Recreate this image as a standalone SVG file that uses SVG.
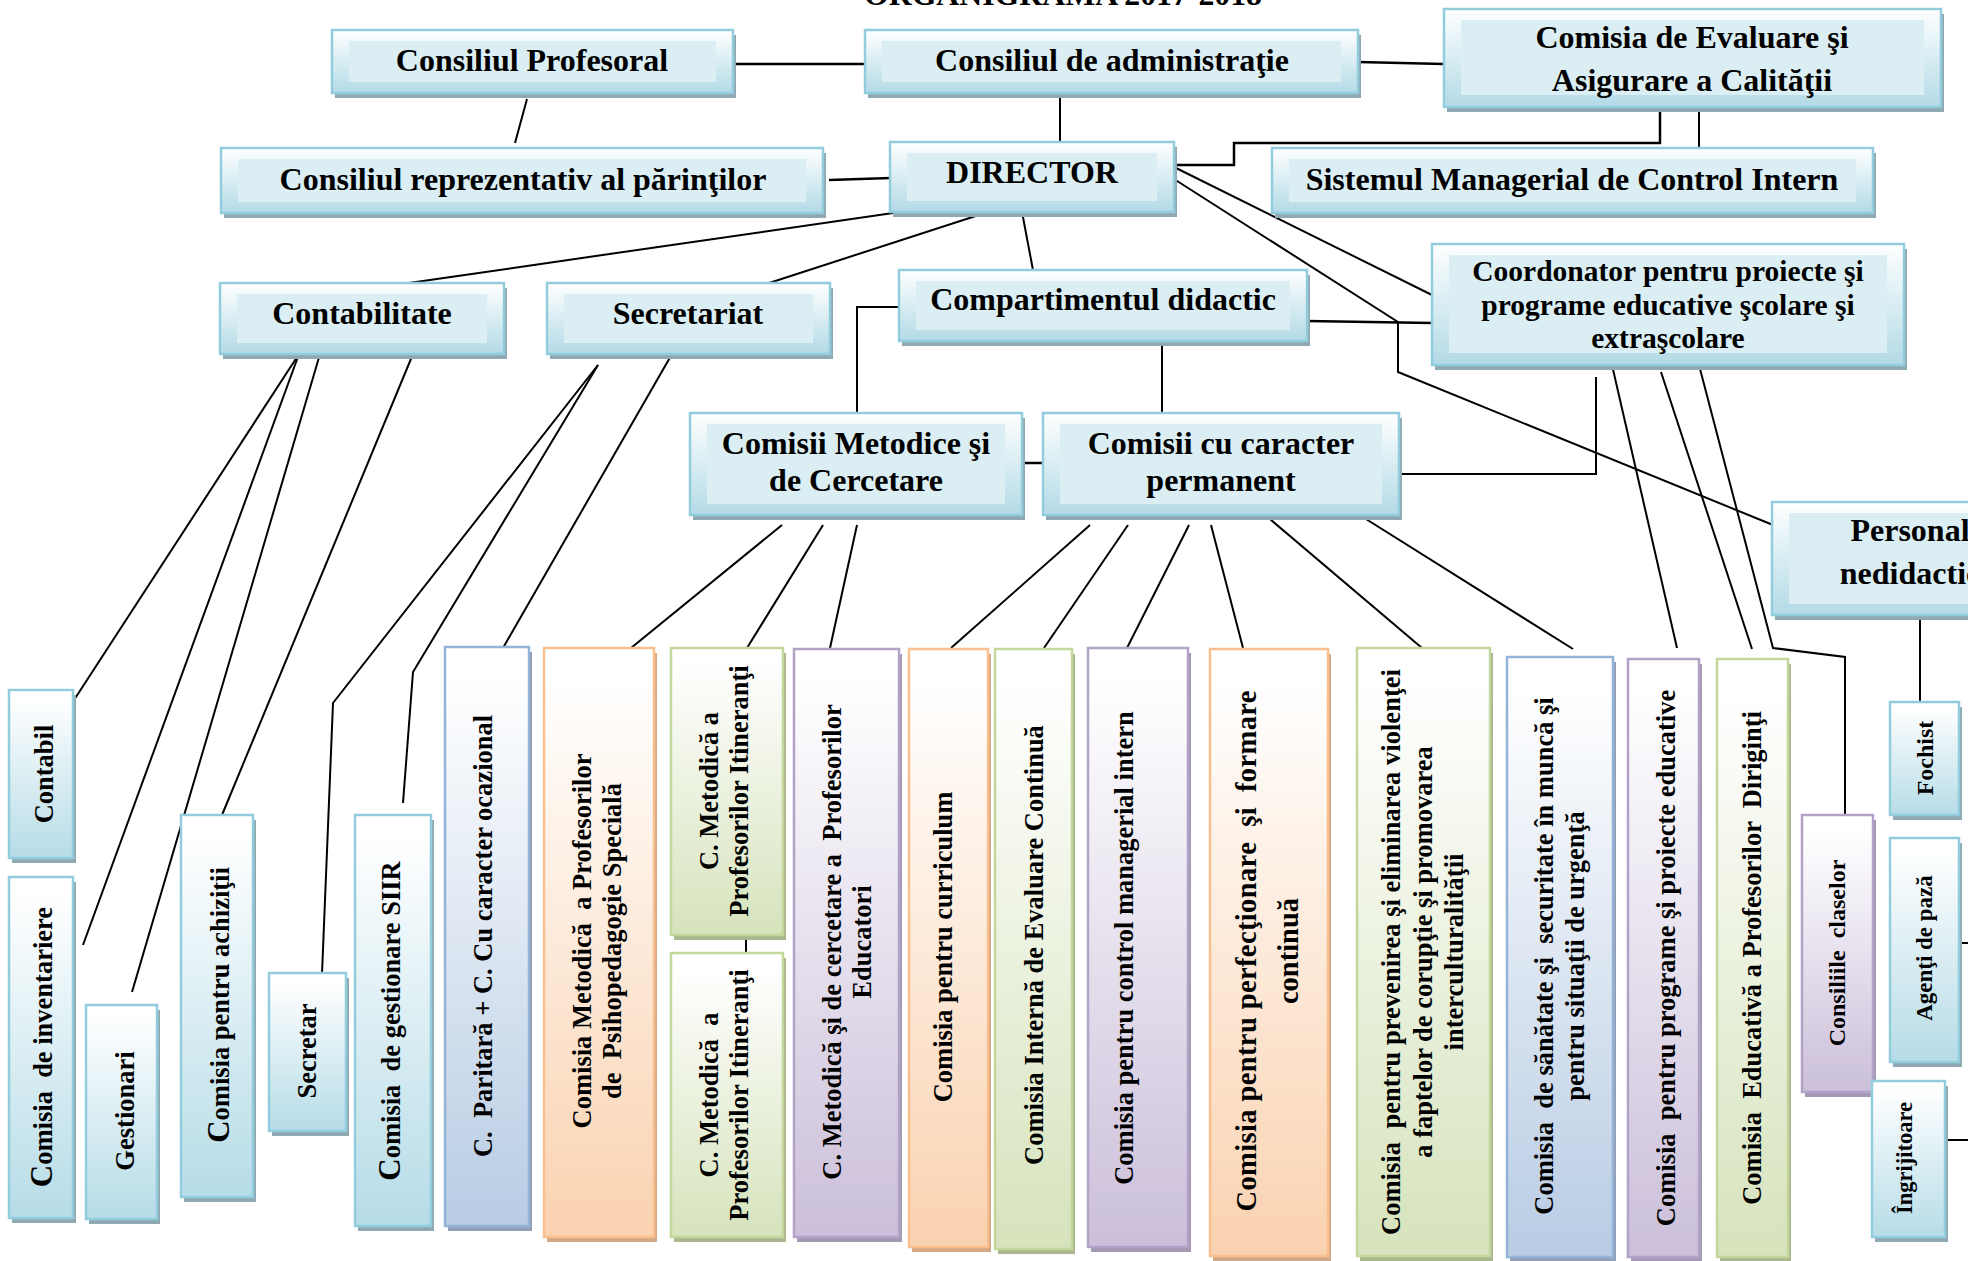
<svg xmlns="http://www.w3.org/2000/svg" width="1968" height="1261" viewBox="0 0 1968 1261">
<defs>
<linearGradient id="gTop" x1="0" y1="0" x2="0" y2="1"><stop offset="0" stop-color="#FFFFFF"/><stop offset="0.45" stop-color="#DCEFF4"/><stop offset="1" stop-color="#B3DAE6"/></linearGradient>
<linearGradient id="gLB" x1="0" y1="0" x2="0" y2="1"><stop offset="0.05" stop-color="#FFFFFF"/><stop offset="1" stop-color="#B6DCE7"/></linearGradient>
<linearGradient id="gOr" x1="0" y1="0" x2="0" y2="1"><stop offset="0.05" stop-color="#FFFFFF"/><stop offset="1" stop-color="#FAD2B0"/></linearGradient>
<linearGradient id="gGr" x1="0" y1="0" x2="0" y2="1"><stop offset="0.05" stop-color="#FFFFFF"/><stop offset="1" stop-color="#D6E3BC"/></linearGradient>
<linearGradient id="gPu" x1="0" y1="0" x2="0" y2="1"><stop offset="0.05" stop-color="#FFFFFF"/><stop offset="1" stop-color="#CBBFDA"/></linearGradient>
<linearGradient id="gBl" x1="0" y1="0" x2="0" y2="1"><stop offset="0.05" stop-color="#FFFFFF"/><stop offset="1" stop-color="#B8CCE4"/></linearGradient>
<style>
.sh{fill:#8FA8B1}
.ob{fill:url(#gTop);stroke:#93CDDD;stroke-width:2.5}
.ib{fill:#DAEEF3}
.tt{font-family:"Liberation Serif","Times New Roman",serif;font-weight:bold;font-size:32px;text-anchor:middle;fill:#000}
.vt{font-family:"Liberation Serif","Times New Roman",serif;font-weight:bold;font-size:26.5px;text-anchor:middle;fill:#000;white-space:pre}
.lb{fill:url(#gLB);stroke:#93CDDD;stroke-width:2.5}
.or{fill:url(#gOr);stroke:#F9BF8F;stroke-width:2.5}
.gr{fill:url(#gGr);stroke:#C3D69B;stroke-width:2.5}
.pu{fill:url(#gPu);stroke:#B3A2C7;stroke-width:2.5}
.bl{fill:url(#gBl);stroke:#95B3D7;stroke-width:2.5}
.sl{fill:#8FA8B1}
.so{fill:#D3A886}
.sg{fill:#A9B68E}
.sp{fill:#A399B3}
.sb{fill:#919FB8}
.c{stroke:#000;stroke-width:2;fill:none}
</style>
</defs>
<rect x="0" y="0" width="1968" height="1261" fill="#FFFFFF"/>

<text id="title" class="tt" x="1063" y="5" style="font-size:31px" textLength="398" lengthAdjust="spacingAndGlyphs">ORGANIGRAMA 2017-2018</text>

<g id="connectors" class="c">
<line x1="734" y1="64" x2="866" y2="64" stroke-width="2.5"/>
<line x1="1358" y1="62" x2="1444" y2="64" stroke-width="2.5"/>
<line x1="1060" y1="97" x2="1060" y2="142"/>
<line x1="527" y1="99" x2="515" y2="143"/>
<line x1="829" y1="180" x2="891" y2="178" stroke-width="2.5"/>
<polyline points="1174,165 1234,165 1234,143 1660,143 1660,107" stroke-width="2.5"/>
<line x1="1699" y1="107" x2="1699" y2="148"/>
<line x1="1174" y1="167" x2="1432" y2="295"/>
<polyline points="1174,179 1398,322 1398,372 1773,525"/>
<line x1="900" y1="212" x2="402" y2="284"/>
<line x1="988" y1="212" x2="766" y2="284"/>
<line x1="1022" y1="212" x2="1033" y2="270"/>
<line x1="1307" y1="321" x2="1432" y2="323" stroke-width="2.5"/>
<polyline points="900,307 857,307 857,414"/>
<line x1="1162" y1="341" x2="1162" y2="414"/>
<line x1="1023" y1="463" x2="1043" y2="463" stroke-width="2.5"/>
<polyline points="1398,474 1596,474 1596,377"/>
<line x1="1612" y1="365" x2="1677" y2="648"/>
<line x1="1661" y1="372" x2="1752" y2="649"/>
<polyline points="1699,365 1773,648 1845,657 1845,815"/>
<line x1="1920" y1="620" x2="1920" y2="702"/>
<line x1="1959" y1="943" x2="1968" y2="943"/>
<line x1="1945" y1="1140" x2="1968" y2="1140"/>
<line x1="782" y1="525" x2="631" y2="648"/>
<line x1="823" y1="525" x2="747" y2="648"/>
<line x1="857" y1="525" x2="830" y2="648"/>
<line x1="746" y1="936" x2="746" y2="953"/>
<line x1="1090" y1="525" x2="951" y2="648"/>
<line x1="1128" y1="525" x2="1044" y2="648"/>
<line x1="1189" y1="525" x2="1127" y2="648"/>
<line x1="1211" y1="525" x2="1243" y2="648"/>
<line x1="1264" y1="514" x2="1422" y2="648"/>
<line x1="1358" y1="514" x2="1573" y2="649"/>
<line x1="299" y1="354" x2="74" y2="700"/>
<line x1="299" y1="354" x2="83" y2="945"/>
<line x1="320" y1="354" x2="132" y2="992"/>
<line x1="413" y1="354" x2="222" y2="815"/>
<polyline points="598,365 333,703 322,974"/>
<polyline points="598,365 413,672 403,803"/>
<line x1="672" y1="354" x2="503" y2="648"/>
</g>

<g id="n-profesoral"><rect class="sh" x="335" y="35" width="401" height="63"/><rect class="ob" x="332" y="30" width="401" height="63"/><rect class="ib" x="349" y="41" width="367" height="41"/><text class="tt" x="532" y="71">Consiliul Profesoral</text></g>
<g id="n-administratie"><rect class="sh" x="868" y="35" width="493" height="63"/><rect class="ob" x="865" y="30" width="493" height="63"/><rect class="ib" x="882" y="41" width="459" height="41"/><text class="tt" x="1112" y="71">Consiliul de administraţie</text></g>
<g id="n-ceac"><rect class="sh" x="1447" y="14" width="497" height="98"/><rect class="ob" x="1444" y="9" width="497" height="98"/><rect class="ib" x="1461" y="20" width="463" height="75"/><text class="tt" x="1692" y="48">Comisia de Evaluare şi</text><text class="tt" x="1692" y="91">Asigurare a Calităţii</text></g>
<g id="n-parinti"><rect class="sh" x="224" y="153" width="602" height="65"/><rect class="ob" x="221" y="148" width="602" height="65"/><rect class="ib" x="238" y="159" width="568" height="43"/><text class="tt" x="523" y="190">Consiliul reprezentativ al părinţilor</text></g>
<g id="n-director"><rect class="sh" x="893" y="147" width="284" height="70"/><rect class="ob" x="890" y="142" width="284" height="70"/><rect class="ib" x="907" y="153" width="250" height="48"/><text class="tt" x="1032" y="183">DIRECTOR</text></g>
<g id="n-scim"><rect class="sh" x="1275" y="153" width="601" height="65"/><rect class="ob" x="1272" y="148" width="601" height="65"/><rect class="ib" x="1289" y="159" width="567" height="43"/><text class="tt" x="1572" y="190">Sistemul Managerial de Control Intern</text></g>
<g id="n-contabilitate"><rect class="sh" x="223" y="288" width="284" height="71"/><rect class="ob" x="220" y="283" width="284" height="71"/><rect class="ib" x="237" y="294" width="250" height="49"/><text class="tt" x="362" y="324">Contabilitate</text></g>
<g id="n-secretariat"><rect class="sh" x="550" y="288" width="283" height="71"/><rect class="ob" x="547" y="283" width="283" height="71"/><rect class="ib" x="564" y="294" width="249" height="49"/><text class="tt" x="688" y="324">Secretariat</text></g>
<g id="n-didactic"><rect class="sh" x="902" y="275" width="408" height="71"/><rect class="ob" x="899" y="270" width="408" height="71"/><rect class="ib" x="916" y="281" width="374" height="49"/><text class="tt" x="1103" y="310">Compartimentul didactic</text></g>
<g id="n-coordonator"><rect class="sh" x="1435" y="249" width="472" height="121"/><rect class="ob" x="1432" y="244" width="472" height="121"/><rect class="ib" x="1449" y="255" width="438" height="98"/><text class="tt" x="1668" y="281" style="font-size:29.5px">Coordonator pentru proiecte şi</text><text class="tt" x="1668" y="315" style="font-size:29.5px">programe educative şcolare şi</text><text class="tt" x="1668" y="348" style="font-size:29.5px">extraşcolare</text></g>
<g id="n-metodice"><rect class="sh" x="693" y="418" width="332" height="102"/><rect class="ob" x="690" y="413" width="332" height="102"/><rect class="ib" x="707" y="424" width="298" height="80"/><text class="tt" x="856" y="454">Comisii Metodice şi</text><text class="tt" x="856" y="491">de Cercetare</text></g>
<g id="n-permanent"><rect class="sh" x="1046" y="418" width="356" height="102"/><rect class="ob" x="1043" y="413" width="356" height="102"/><rect class="ib" x="1060" y="424" width="322" height="80"/><text class="tt" x="1221" y="454">Comisii cu caracter</text><text class="tt" x="1221" y="491">permanent</text></g>
<g id="n-nedidactic"><rect class="sh" x="1775" y="507" width="290" height="113"/><rect class="ob" x="1772" y="502" width="290" height="113"/><rect class="ib" x="1789" y="513" width="256" height="91"/><text class="tt" x="1910" y="541">Personal</text><text class="tt" x="1910" y="584">nedidactic</text></g>

<g id="n-contabil"><rect class="sl" x="12" y="695" width="64" height="168"/><rect class="lb" x="9" y="690" width="64" height="168"/><text class="vt" transform="translate(53,774) rotate(-90)">Contabil</text></g>
<g id="n-inventariere"><rect class="sl" x="12" y="882" width="64" height="341"/><rect class="lb" x="9" y="877" width="64" height="341"/><text class="vt" transform="translate(52,1047) rotate(-90)"><tspan style="font-size:31px">C</tspan>omisia  de inventariere</text></g>
<g id="n-gestionari"><rect class="sl" x="89" y="1010" width="71" height="214"/><rect class="lb" x="86" y="1005" width="71" height="214"/><text class="vt" transform="translate(134,1111) rotate(-90)">Gestionari</text></g>
<g id="n-achizitii"><rect class="sl" x="184" y="820" width="72" height="382"/><rect class="lb" x="181" y="815" width="72" height="382"/><text class="vt" transform="translate(229,1005) rotate(-90)"><tspan style="font-size:31px">C</tspan>omisia pentru achiziţii</text></g>
<g id="n-secretar"><rect class="sl" x="272" y="978" width="77" height="158"/><rect class="lb" x="269" y="973" width="77" height="158"/><text class="vt" transform="translate(316,1051) rotate(-90)">Secretar</text></g>
<g id="n-siir"><rect class="sl" x="358" y="820" width="76" height="411"/><rect class="lb" x="355" y="815" width="76" height="411"/><text class="vt" transform="translate(400,1021) rotate(-90)"><tspan style="font-size:31px">C</tspan>omisia  de gestionare SIIR</text></g>
<g id="n-paritara"><rect class="sb" x="448" y="652" width="84" height="579"/><rect class="bl" x="445" y="647" width="84" height="579"/><text class="vt" transform="translate(492,936) rotate(-90)">C.  Paritară + C. Cu caracter ocazional</text></g>

<g id="n-psihopedagogie"><rect class="so" x="547" y="653" width="110" height="589"/><rect class="or" x="544" y="648" width="110" height="589"/><text class="vt" transform="translate(591,941) rotate(-90)"><tspan x="0" y="0">Comisia Metodică  a Profesorilor</tspan><tspan x="0" dy="30">de  Psihopedagogie Specială</tspan></text></g>
<g id="n-itineranti1"><rect class="sg" x="674" y="653" width="112" height="287"/><rect class="gr" x="671" y="648" width="112" height="287"/><text class="vt" transform="translate(718,791) rotate(-90)"><tspan x="0" y="0">C. Metodică a</tspan><tspan x="0" dy="30">Profesorilor Itineranţi</tspan></text></g>
<g id="n-itineranti2"><rect class="sg" x="674" y="958" width="112" height="284"/><rect class="gr" x="671" y="953" width="112" height="284"/><text class="vt" transform="translate(718,1095) rotate(-90)"><tspan x="0" y="0">C. Metodică  a</tspan><tspan x="0" dy="30">Profesorilor Itineranţi</tspan></text></g>
<g id="n-educatori"><rect class="sp" x="797" y="654" width="105" height="588"/><rect class="pu" x="794" y="649" width="105" height="588"/><text class="vt" transform="translate(841,942) rotate(-90)"><tspan x="0" y="0">C. Metodică şi de cercetare a  Profesorilor</tspan><tspan x="0" dy="30">Educatori</tspan></text></g>
<g id="n-curriculum"><rect class="so" x="912" y="654" width="79" height="598"/><rect class="or" x="909" y="649" width="79" height="598"/><text class="vt" transform="translate(952,947) rotate(-90)">Comisia pentru curriculum</text></g>
<g id="n-ciec"><rect class="sg" x="998" y="654" width="77" height="600"/><rect class="gr" x="995" y="649" width="77" height="600"/><text class="vt" transform="translate(1043,945) rotate(-90)">Comisia Internă de Evaluare Continuă</text></g>
<g id="n-control"><rect class="sp" x="1091" y="653" width="100" height="599"/><rect class="pu" x="1088" y="648" width="100" height="599"/><text class="vt" transform="translate(1133,948) rotate(-90)">Comisia pentru control managerial intern</text></g>
<g id="n-perfectionare"><rect class="so" x="1213" y="654" width="118" height="607"/><rect class="or" x="1210" y="649" width="118" height="607"/><text class="vt" style="font-size:28.5px" transform="translate(1256,951) rotate(-90)"><tspan x="0" y="0" textLength="521" lengthAdjust="spacing">Comisia pentru perfecţionare  şi  formare</tspan><tspan x="0" dy="42">continuă</tspan></text></g>
<g id="n-violenta"><rect class="sg" x="1360" y="653" width="133" height="608"/><rect class="gr" x="1357" y="648" width="133" height="608"/><text class="vt" transform="translate(1400,952) rotate(-90)"><tspan x="0" y="0" textLength="566" lengthAdjust="spacing">Comisia  pentru prevenirea şi eliminarea violenţei</tspan><tspan x="0" dy="31.5">a faptelor de corupţie şi promovarea</tspan><tspan x="0" dy="31.5">interculturalităţii</tspan></text></g>
<g id="n-ssm"><rect class="sb" x="1510" y="662" width="106" height="600"/><rect class="bl" x="1507" y="657" width="106" height="600"/><text class="vt" transform="translate(1553,956) rotate(-90)"><tspan x="0" y="0">Comisia  de sănătate şi  securitate în muncă şi</tspan><tspan x="0" dy="31">pentru situaţii de urgenţă</tspan></text></g>
<g id="n-programe"><rect class="sp" x="1631" y="664" width="71" height="598"/><rect class="pu" x="1628" y="659" width="71" height="598"/><text class="vt" transform="translate(1675,958) rotate(-90)">Comisia  pentru programe şi proiecte educative</text></g>
<g id="n-diriginti"><rect class="sg" x="1720" y="664" width="71" height="598"/><rect class="gr" x="1717" y="659" width="71" height="598"/><text class="vt" transform="translate(1761,958) rotate(-90)">Comisia  Educativă a Profesorilor  Diriginţi</text></g>
<g id="n-consiliile"><rect class="sp" x="1805" y="820" width="71" height="277"/><rect class="pu" x="1802" y="815" width="71" height="277"/><text class="vt" style="font-size:24px" transform="translate(1845,953) rotate(-90)">Consiliile  claselor</text></g>
<g id="n-fochist"><rect class="sl" x="1893" y="707" width="69" height="113"/><rect class="lb" x="1890" y="702" width="69" height="113"/><text class="vt" style="font-size:24px" transform="translate(1933,758) rotate(-90)">Fochist</text></g>
<g id="n-agenti"><rect class="sl" x="1893" y="843" width="69" height="224"/><rect class="lb" x="1890" y="838" width="69" height="224"/><text class="vt" style="font-size:23px" transform="translate(1932,948) rotate(-90)">Agenţi de pază</text></g>
<g id="n-ingrijitoare"><rect class="sl" x="1875" y="1086" width="73" height="156"/><rect class="lb" x="1872" y="1081" width="73" height="156"/><text class="vt" style="font-size:22.5px" transform="translate(1912,1158) rotate(-90)">Îngrijitoare</text></g>
</svg>
